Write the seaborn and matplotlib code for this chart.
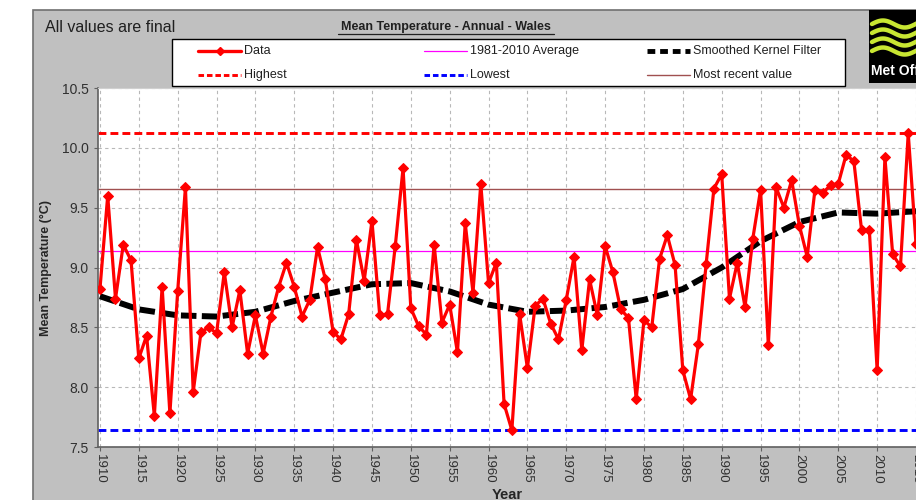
import matplotlib
matplotlib.use("Agg")
import matplotlib.pyplot as plt
import matplotlib.patches as mpatches
from matplotlib.lines import Line2D
import seaborn as sns
import pandas as pd
import numpy as np

# Annual mean temperature, Wales
years = list(range(1910, 2016))
temps = [
    8.82, 9.60, 8.74, 9.19, 9.06, 8.24, 8.43, 7.76, 8.84, 7.78,   # 1910s
    8.80, 9.67, 7.96, 8.46, 8.50, 8.45, 8.96, 8.50, 8.81, 8.28,   # 1920s
    8.60, 8.28, 8.59, 8.84, 9.04, 8.84, 8.59, 8.73, 9.17, 8.90,   # 1930s
    8.46, 8.40, 8.61, 9.23, 8.89, 9.39, 8.60, 8.61, 9.18, 9.83,   # 1940s
    8.66, 8.51, 8.44, 9.19, 8.54, 8.69, 8.29, 9.37, 8.79, 9.70,   # 1950s
    8.87, 9.04, 7.86, 7.64, 8.61, 8.16, 8.68, 8.74, 8.53, 8.40,   # 1960s
    8.73, 9.09, 8.31, 8.90, 8.60, 9.18, 8.96, 8.65, 8.58, 7.90,   # 1970s
    8.56, 8.50, 9.07, 9.27, 9.02, 8.14, 7.90, 8.36, 9.03, 9.66,   # 1980s
    9.78, 8.74, 9.04, 8.67, 9.24, 9.65, 8.35, 9.67, 9.50, 9.73,   # 1990s
    9.35, 9.09, 9.65, 9.62, 9.69, 9.70, 9.94, 9.89, 9.31, 9.31,   # 2000s
    8.14, 9.92, 9.11, 9.01, 10.12, 9.20,                          # 2010s
]

# smoothed kernel filter curve
smooth_years = list(range(1910, 2020, 5))
smooth_vals = [8.76, 8.65, 8.60, 8.59, 8.63, 8.72, 8.79, 8.86, 8.87, 8.80, 8.69,
               8.63, 8.64, 8.67, 8.73, 8.82, 9.00, 9.22, 9.38, 9.46, 9.45, 9.47]

highest = 10.12
lowest = 7.64
average_1981_2010 = 9.14
most_recent = 9.66

legend_labels = ["Data", "1981-2010 Average", "Smoothed Kernel Filter",
                 "Highest", "Lowest", "Most recent value"]

df = pd.DataFrame({"Year": years, "Temp": temps})
df_smooth = pd.DataFrame({"Year": smooth_years, "Temp": smooth_vals})

sns.set_style("white")
plt.rcParams["font.family"] = ["Liberation Sans Narrow", "Liberation Sans", "DejaVu Sans"]

W, H = 916, 500
fig = plt.figure(figsize=(W / 100, H / 100), dpi=100)
fig.patch.set_facecolor("white")

def fx(px):
    return px / W

def fy(py):
    return 1 - py / H

# grey panel behind everything
fig.patches.append(mpatches.Rectangle((fx(33), -0.01), 1.0, fy(10) + 0.01,
                                      transform=fig.transFigure, facecolor="#c0c0c0",
                                      edgecolor="#707070", lw=1.2, zorder=-5))

ax = fig.add_axes([fx(98), fy(447), (W - 98) / W, (447 - 88) / H])
ax.set_facecolor("white")

red_dash = (0, (2.7, 1.4))
blk_dash = (0, (2.6, 0.9))

ax.axhline(highest, color="#ff0000", lw=2.1, ls=red_dash, zorder=2)
ax.axhline(lowest, color="#0000ff", lw=2.1, ls=red_dash, zorder=2)
ax.axhline(average_1981_2010, color="#ff00ff", lw=0.9, zorder=2)
ax.axhline(most_recent, color="#a05050", lw=1.0, zorder=2)

sns.lineplot(data=df_smooth, x="Year", y="Temp", ax=ax, color="black", lw=4.3,
             ls=blk_dash, zorder=3)
sns.lineplot(data=df, x="Year", y="Temp", ax=ax, color="#ff0000", lw=2.3,
             marker="D", markersize=5, markeredgecolor="#ff0000", zorder=4)

ax.set_xlim(1909.75, 2014.86)
ax.set_ylim(7.5, 10.5)
ax.set_xticks(range(1910, 2016, 5))
ax.set_yticks(np.arange(7.5, 10.51, 0.5))
ax.set_yticklabels([f"{v:.1f}" for v in np.arange(7.5, 10.51, 0.5)])
ax.grid(True, color="#b8b8b8", lw=0.8, ls=(0, (3, 3)))
ax.tick_params(axis="x", labelrotation=-90, labelsize=9.5, length=3, color="#606060",
               labelcolor="#303030", pad=2)
ax.tick_params(axis="y", labelsize=10, length=3, color="#606060", labelcolor="#303030")
ax.tick_params(bottom=True, left=True)
for lbl in ax.get_xticklabels():
    lbl.set_va("top")
ax.set_xlabel("Year", fontsize=10.5, fontweight="bold", labelpad=3)
ax.set_ylabel("Mean Temperature (\u00b0C)", fontsize=9, fontweight="bold", labelpad=7)
for side in ["left", "bottom"]:
    ax.spines[side].set_color("#606060")
    ax.spines[side].set_linewidth(1.2)
ax.spines["top"].set_color("#d0d0d0")
ax.spines["right"].set_visible(False)

# header texts
fig.text(fx(45), fy(27), "All values are final", fontsize=11.5, va="center",
         ha="left", color="#202020")
fig.text(fx(446), fy(27), "Mean Temperature - Annual - Wales", fontsize=9,
         fontweight="bold", va="center", ha="center", color="#202020")
fig.lines.append(Line2D([fx(338), fx(554)], [fy(34), fy(34)],
                        transform=fig.transFigure, color="#202020", lw=0.9))

# legend box drawn by hand so the columns sit where the reference has them
fig.patches.append(mpatches.Rectangle((fx(172), fy(86)), (845 - 172) / W, 47 / H,
                                      transform=fig.transFigure, facecolor="white",
                                      edgecolor="black", lw=1.0, zorder=1))
leg_styles = [
    dict(color="#ff0000", lw=2.4, marker="D", markersize=4, markevery=[1]),
    dict(color="#ff00ff", lw=0.9),
    dict(color="black", lw=3.5, ls=(0, (1.6, 1.0))),
    dict(color="#ff0000", lw=2.1, ls=(0, (1.9, 1.0))),
    dict(color="#0000ff", lw=2.1, ls=(0, (1.9, 1.0))),
    dict(color="#a05050", lw=1.0),
]
col_x = [198, 424, 647]
row_y = [51, 75]
for i, (lab, st) in enumerate(zip(legend_labels, leg_styles)):
    x0 = col_x[i % 3]
    y0 = row_y[i // 3]
    fig.lines.append(Line2D([fx(x0), fx(x0 + 22), fx(x0 + 43)], [fy(y0)] * 3,
                            transform=fig.transFigure, zorder=2, **st))
    fig.text(fx(x0 + 46), fy(y0), lab, fontsize=9, va="center", ha="left",
             color="#202020", zorder=3)

# Met Office logo block
fig.patches.append(mpatches.Rectangle((fx(869), fy(83)), 60 / W, 73 / H,
                                      transform=fig.transFigure, facecolor="black",
                                      edgecolor="none", zorder=-4))
tt = np.linspace(0, 1, 40)
for i in range(4):
    yy = fy(24 + i * 9) + 0.007 * np.sin(tt * 2.2 * np.pi)
    fig.lines.append(Line2D(fx(872 + tt * 48), yy, transform=fig.transFigure,
                            color="#c8e632", lw=3.2))
fig.text(fx(871), fy(71), "Met Office", fontsize=10, fontweight="bold",
         color="white", ha="left", va="center")

fig.savefig("out.png", dpi=100)
